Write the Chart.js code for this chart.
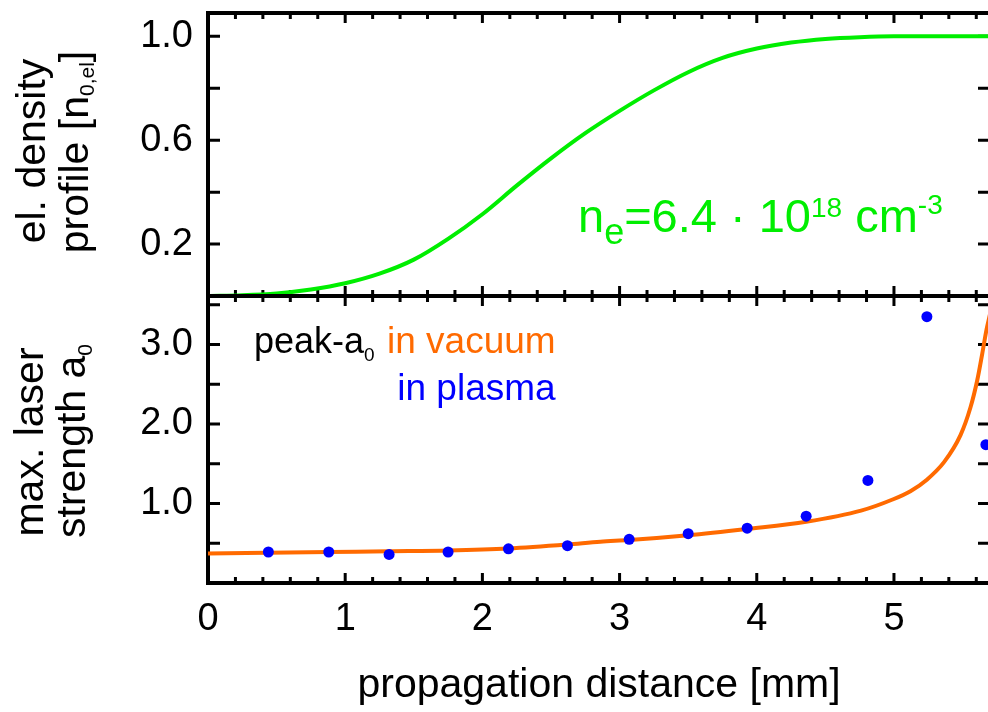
<!DOCTYPE html>
<html>
<head>
<meta charset="utf-8">
<script src="https://cdn.jsdelivr.net/npm/chart.js@4/dist/chart.umd.min.js"></script>
<style>
  html, body { margin: 0; padding: 0; background: #fff; overflow: hidden; width: 988px; height: 712px; }
  #wrap { position: relative; width: 1000px; height: 712px; }
  canvas { position: absolute; left: 0; top: 0; }
</style>
</head>
<body>
<div id="wrap">
  <canvas id="topChart" width="1000" height="712"></canvas>
  <canvas id="botChart" width="1000" height="712"></canvas>
</div>
<script>
// ---------- data ----------
const densityX = [0, 0.25, 0.5, 0.75, 1.0, 1.25, 1.5, 1.75, 2.0, 2.25, 2.5, 2.75, 3.0, 3.25, 3.5, 3.75, 4.0, 4.25, 4.5, 4.75, 5.0, 5.25, 5.5, 5.72];
const densityY = [0.0, 0.003, 0.01, 0.025, 0.049, 0.086, 0.14, 0.22, 0.315, 0.425, 0.53, 0.627, 0.713, 0.792, 0.862, 0.917, 0.953, 0.976, 0.99, 0.997, 1.0, 1.0, 1.0, 1.0];

const vacuumX = [0, 0.44, 0.88, 1.32, 1.75, 2.19, 2.62, 2.86, 3.07, 3.5, 3.93, 4.36, 4.76, 4.99, 5.12, 5.24, 5.365, 5.485, 5.558, 5.607, 5.643, 5.675, 5.70];
const vacuumY = [0.37, 0.38, 0.39, 0.40, 0.41, 0.435, 0.485, 0.52, 0.54, 0.60, 0.68, 0.77, 0.91, 1.05, 1.155, 1.30, 1.52, 1.86, 2.21, 2.55, 2.88, 3.19, 3.38];

const plasmaX = [0.44, 0.88, 1.32, 1.75, 2.19, 2.62, 3.07, 3.50, 3.93, 4.36, 4.81, 5.24, 5.67];
const plasmaY = [0.39, 0.39, 0.36, 0.39, 0.43, 0.47, 0.55, 0.62, 0.69, 0.84, 1.29, 3.35, 1.74];

const xTickValues = [0, 1, 2, 3, 4, 5];
const xTickLabels = ['0', '1', '2', '3', '4', '5'];
const densityTickValues = [0.2, 0.6, 1.0];
const densityTickLabels = ['0.2', '0.6', '1.0'];
const a0TickValues = [1, 2, 3];
const a0TickLabels = ['1.0', '2.0', '3.0'];

// ---------- helpers ----------
const FAM = "'Liberation Sans', Arial, Helvetica, sans-serif";
const fnt = s => s + 'px ' + FAM;

function richWidth(ctx, pieces) {
  let w = 0;
  for (const p of pieces) { ctx.font = fnt(p.size); w += ctx.measureText(p.text).width; }
  return w;
}
function drawRich(ctx, pieces, x, y, align) {
  const w = richWidth(ctx, pieces);
  let cx = align === 'center' ? x - w / 2 : (align === 'right' ? x - w : x);
  ctx.textAlign = 'left';
  ctx.textBaseline = 'alphabetic';
  for (const p of pieces) {
    ctx.font = fnt(p.size);
    ctx.fillStyle = p.color || '#000';
    ctx.fillText(p.text, cx, y + (p.dy || 0));
    cx += ctx.measureText(p.text).width;
  }
  return w;
}
function drawRotated(ctx, pieces, baseX, centerY) {
  ctx.save();
  ctx.translate(baseX, centerY);
  ctx.rotate(-Math.PI / 2);
  drawRich(ctx, pieces, 0, 0, 'center');
  ctx.restore();
}

// frame + inward ticks
const framePlugin = {
  id: 'frame',
  beforeDatasetsDraw(chart, args, opts) {
    const { ctx, chartArea: a, scales: { x, y } } = chart;
    ctx.save();
    ctx.strokeStyle = '#000';
    ctx.lineCap = 'butt';
    ctx.lineWidth = 3;
    ctx.beginPath();
    const nx = Math.round(x.max / 0.2);
    for (let i = 0; i <= nx; i++) {
      const v = i * 0.2;
      if (v > x.max) break;
      const px = x.getPixelForValue(v);
      const L = (i % 5 === 0) ? 10 : 6;
      ctx.moveTo(px, a.top); ctx.lineTo(px, a.top + L);
      ctx.moveTo(px, a.bottom); ctx.lineTo(px, a.bottom - L);
    }
    const ny = Math.round(y.max / opts.yStep);
    for (let i = 1; i <= ny; i++) {
      const v = i * opts.yStep;
      if (v > y.max) break;
      const py = y.getPixelForValue(v);
      ctx.moveTo(a.left, py); ctx.lineTo(a.left + 12, py);
      ctx.moveTo(a.right, py); ctx.lineTo(a.right - 12, py);
    }
    ctx.stroke();
    ctx.lineWidth = 4;
    ctx.strokeRect(a.left, a.top, a.right - a.left, a.bottom - a.top);
    ctx.restore();
  },
  afterDraw(chart, args, opts) {
    if (opts.texts) opts.texts(chart.ctx, chart);
  }
};

function noPad(s) { s.paddingTop = 0; s.paddingBottom = 0; s.paddingLeft = 0; s.paddingRight = 0; }

const commonY = (vals, labels, max) => ({
  type: 'linear', min: 0, max: max,
  afterFit(s) { s.width = 208; noPad(s); },
  afterBuildTicks(s) { s.ticks = vals.map(v => ({ value: v })); },
  grid: { display: false, drawTicks: false },
  border: { display: false },
  ticks: {
    autoSkip: false, padding: 15, color: '#000',
    font: { family: FAM, size: 38 },
    callback: (v, i) => labels[i]
  }
});

// ---------- top panel ----------
new Chart(document.getElementById('topChart'), {
  type: 'line',
  data: {
    datasets: [{
      data: densityX.map((x, i) => ({ x: x, y: densityY[i] })),
      borderColor: '#00ee00', borderWidth: 4, pointRadius: 0,
      cubicInterpolationMode: 'monotone', fill: false
    }]
  },
  options: {
    responsive: false, animation: false, devicePixelRatio: 1,
    layout: { padding: { top: 13, right: 10, bottom: 712 - 296, left: 0 } },
    plugins: {
      legend: { display: false }, tooltip: { enabled: false },
      frame: {
        yStep: 0.2,
        texts(ctx) {
          drawRotated(ctx, [{ text: 'el. density', size: 41 }], 45, 151);
          drawRotated(ctx, [{ text: 'profile [n', size: 41 }, { text: '0,el', size: 21, dy: 6 }, { text: ']', size: 41 }], 88, 152);
          const g = '#00ee00';
          drawRich(ctx, [
            { text: 'n', size: 47, color: g },
            { text: 'e', size: 36, dy: 12, color: g },
            { text: '=6.4 · 10', size: 47, color: g },
            { text: '18', size: 28, dy: -15, color: g },
            { text: ' cm', size: 47, color: g },
            { text: '-3', size: 28, dy: -18, color: g }
          ], 578, 232, 'left');
        }
      }
    },
    scales: {
      x: { type: 'linear', min: 0, max: 5.70, display: false, afterFit: noPad },
      y: commonY(densityTickValues, densityTickLabels, 1.09)
    }
  },
  plugins: [framePlugin]
});

// ---------- bottom panel ----------
new Chart(document.getElementById('botChart'), {
  type: 'line',
  data: {
    datasets: [
      {
        label: 'in plasma',
        data: plasmaX.map((x, i) => ({ x: x, y: plasmaY[i] })),
        showLine: false, pointRadius: 5.5, pointBackgroundColor: '#0000ff',
        pointBorderWidth: 0, borderColor: '#0000ff'
      },
      {
        label: 'in vacuum',
        data: vacuumX.map((x, i) => ({ x: x, y: vacuumY[i] })),
        borderColor: '#ff6a00', borderWidth: 4, pointRadius: 0,
        cubicInterpolationMode: 'monotone', fill: false
      }
    ]
  },
  options: {
    responsive: false, animation: false, devicePixelRatio: 1,
    layout: { padding: { top: 296, right: 10, bottom: 0, left: 0 } },
    plugins: {
      legend: { display: false }, tooltip: { enabled: false },
      frame: {
        yStep: 0.5,
        texts(ctx) {
          drawRotated(ctx, [{ text: 'max. laser', size: 41 }], 43, 442);
          drawRotated(ctx, [{ text: 'strength a', size: 41 }, { text: '0', size: 21, dy: 7 }], 85, 441);
          const w1 = richWidth(ctx, [{ text: 'in vacuum', size: 37 }]);
          drawRich(ctx, [{ text: 'peak-a', size: 36 }, { text: '0', size: 19, dy: 8 }], 254, 353, 'left');
          drawRich(ctx, [{ text: 'in vacuum', size: 37, color: '#ff6a00' }], 387, 353, 'left');
          drawRich(ctx, [{ text: 'in plasma', size: 37, color: '#0000ff' }], 387 + w1, 400, 'right');
        }
      }
    },
    scales: {
      x: {
        type: 'linear', min: 0, max: 5.70,
        afterFit(s) { s.height = 712 - 583; noPad(s); },
        afterBuildTicks(s) { s.ticks = xTickValues.map(v => ({ value: v })); },
        grid: { display: false, drawTicks: false },
        border: { display: false },
        ticks: {
          autoSkip: false, maxRotation: 0, padding: 14, color: '#000',
          font: { family: FAM, size: 38 },
          callback: (v, i) => xTickLabels[i]
        },
        title: {
          display: true, text: 'propagation distance [mm]', color: '#000',
          font: { family: FAM, size: 41 }, padding: { top: 0, bottom: 2 }
        }
      },
      y: commonY(a0TickValues, a0TickLabels, 3.61)
    }
  },
  plugins: [framePlugin]
});
</script>
</body>
</html>
